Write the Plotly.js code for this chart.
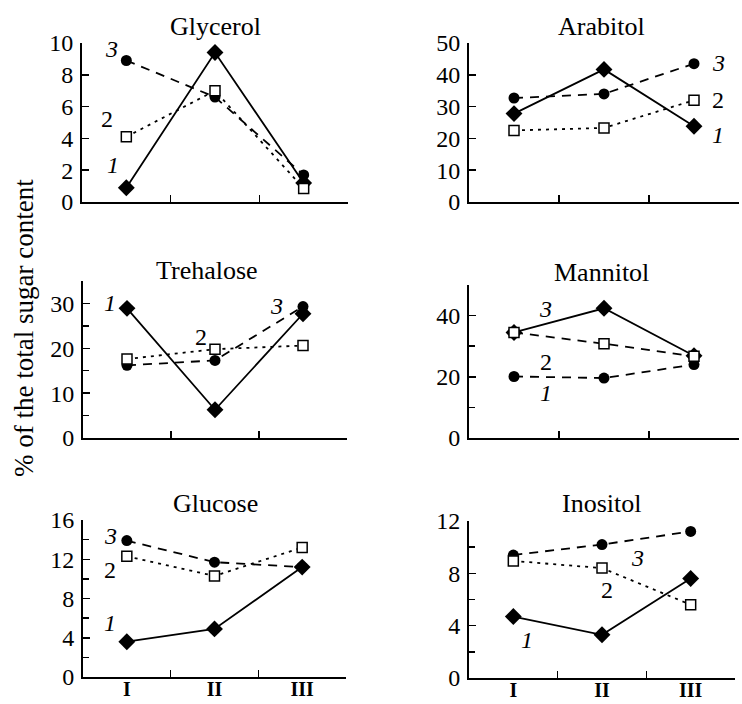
<!DOCTYPE html>
<html><head><meta charset="utf-8">
<script src="https://cdn.plot.ly/plotly-3.0.1.min.js"></script>
<style>html,body{margin:0;padding:0;background:#fff}</style>
</head><body><div id="chart" style="width:742px;height:704px"></div>
<script>
const categories = ['I', 'II', 'III'];
const panelNames = ['Glycerol', 'Arabitol', 'Trehalose', 'Mannitol', 'Glucose', 'Inositol'];
const yAxisTitle = '% of the total sugar content';

const glycerol1 = [0.9, 9.4, 1.2];
const glycerol2 = [4.1, 7.0, 0.85];
const glycerol3 = [8.9, 6.6, 1.7];

const arabitol1 = [27.8, 41.7, 23.8];
const arabitol2 = [22.5, 23.3, 32.0];
const arabitol3 = [32.7, 34.0, 43.5];

const trehalose1 = [28.9, 6.3, 27.7];
const trehalose2 = [17.6, 19.8, 20.6];
const trehalose3 = [16.2, 17.3, 29.3];

const mannitol1 = [34.5, 42.4, 26.9];
const mannitol2 = [34.5, 30.8, 26.7];
const mannitol3 = [20.1, 19.6, 24.0];

const glucose1 = [3.6, 4.9, 11.2];
const glucose2 = [12.3, 10.3, 13.2];
const glucose3 = [13.9, 11.7, 11.2];

const inositol1 = [4.7, 3.3, 7.6];
const inositol2 = [8.95, 8.4, 5.6];
const inositol3 = [9.4, 10.2, 11.2];

const seriesLabels = ['1', '2', '3'];

const W = 742, H = 704;
const FONT = '"Liberation Serif", "Times New Roman", Tinos, "DejaVu Serif", serif';

// panel geometry in pixels
const panels = [
  {series: [glycerol1, glycerol2, glycerol3], yr: [0, 10], dt: 2, mdt: null, x0: 82, x1: 348, yTop: 43, yBot: 202, tx: 215, ty: 26,
   labels: [[0.35 - 0.5, 2.3], [0.28 - 0.5, 5.2], [0.33 - 0.5, 9.6]]},
  {series: [arabitol1, arabitol2, arabitol3], yr: [0, 50], dt: 10, mdt: null, x0: 469, x1: 739, yTop: 43, yBot: 202, tx: 601, ty: 27,
   labels: [[2.77 - 0.5, 21], [2.77 - 0.5, 32], [2.77 - 0.5, 43.7]]},
  {series: [trehalose1, trehalose2, trehalose3], yr: [0, 35], dt: 10, mdt: 5, x0: 83, x1: 347, yTop: 281, yBot: 438, tx: 207, ty: 270,
   labels: [[0.31 - 0.5, 30], [1.34 - 0.5, 22.6], [2.2 - 0.5, 29.5]]},
  {series: [mannitol1, mannitol2, mannitol3], yr: [0, 50], dt: 20, mdt: 10, x0: 469, x1: 739, yTop: 285, yBot: 438, tx: 601, ty: 272,
   labels: [[0.85 - 0.5, 14.8], [0.85 - 0.5, 25], [0.85 - 0.5, 42]], dash2: '9px,7px'},
  {series: [glucose1, glucose2, glucose3], yr: [0, 16], dt: 4, mdt: 2, x0: 83, x1: 346, yTop: 520, yBot: 677, tx: 215, ty: 503,
   labels: [[0.31 - 0.5, 5.5], [0.31 - 0.5, 10.9], [0.31 - 0.5, 14.4]]},
  {series: [inositol1, inositol2, inositol3], yr: [0, 12], dt: 4, mdt: 2, x0: 469, x1: 735, yTop: 521, yBot: 678, tx: 601, ty: 503,
   labels: [[0.65 - 0.5, 2.9], [1.56 - 0.5, 6.7], [1.9 - 0.5, 9.2]]}
];

const styles = [
  {dash: 'solid', symbol: 'diamond', size: 13, color: '#000', lineW: 0},
  {dash: '3px,5px', symbol: 'square', size: 10, color: '#fff', lineW: 1.5},
  {dash: '9px,7px', symbol: 'circle', size: 11, color: '#000', lineW: 0}
];

const traces = [];
const layout = {
  width: W, height: H,
  margin: {l: 0, r: 0, t: 0, b: 0},
  paper_bgcolor: '#fff', plot_bgcolor: 'rgba(0,0,0,0)',
  showlegend: false,
  font: {family: FONT, color: '#000', size: 24},
  annotations: []
};

panels.forEach((p, i) => {
  const n = i + 1;
  const xa = 'x' + (n === 1 ? '' : n), ya = 'y' + (n === 1 ? '' : n);
  const xKey = 'xaxis' + (n === 1 ? '' : n), yKey = 'yaxis' + (n === 1 ? '' : n);
  const bottom = i >= 4;
  layout[xKey] = {
    domain: [p.x0 / W, p.x1 / W], anchor: ya, type: 'category',
    categoryorder: 'array', categoryarray: categories,
    range: [-0.5, 2.5], tickson: 'boundaries',
    ticks: 'inside', ticklen: 7, tickwidth: 1.5, tickcolor: '#000',
    showline: true, linewidth: 2, linecolor: '#000',
    showgrid: false, zeroline: false, fixedrange: true,
    showticklabels: bottom, ticklabelstandoff: -7,
    tickfont: {family: FONT, size: 20, weight: 'bold', color: '#000'}
  };
  const yax = {
    domain: [1 - p.yBot / H, 1 - p.yTop / H], anchor: xa,
    range: p.yr, tick0: 0, dtick: p.dt,
    ticks: 'inside', ticklen: 7, tickwidth: 1.5, tickcolor: '#000',
    showline: true, linewidth: 2, linecolor: '#000',
    showgrid: false, zeroline: false, fixedrange: true,
    ticklabelstandoff: 2,
    tickfont: {family: FONT, size: 24, color: '#000'}
  };
  if (p.mdt) yax.minor = {ticks: 'inside', ticklen: 6, tickwidth: 1.5, tickcolor: '#000', dtick: p.mdt, tick0: 0, showgrid: false};
  layout[yKey] = yax;

  // draw order: solid series first, then circles, squares last
  [0, 2, 1].forEach(k => {
    const st = styles[k];
    traces.push({
      type: 'scatter', mode: 'lines+markers', x: categories, y: p.series[k],
      xaxis: xa, yaxis: ya, cliponaxis: false,
      line: {color: '#000', width: 1.8, dash: (k === 1 && p.dash2) ? p.dash2 : st.dash},
      marker: {symbol: st.symbol, size: st.size, color: st.color, line: {color: '#000', width: st.lineW}},
      hoverinfo: 'skip'
    });
  });

  layout.annotations.push({
    text: panelNames[i], xref: 'paper', yref: 'paper', x: p.tx / W, y: 1 - p.ty / H,
    xanchor: 'center', yanchor: 'middle', showarrow: false,
    font: {family: FONT, size: 26, color: '#000'}
  });
  p.labels.forEach((lb, k) => {
    layout.annotations.push({
      text: k === 1 ? seriesLabels[k] : '<i>' + seriesLabels[k] + '</i>',
      xref: xa, yref: ya, x: lb[0], y: lb[1],
      xanchor: 'center', yanchor: 'middle', showarrow: false,
      font: {family: FONT, size: 24, color: '#000'}
    });
  });
});

layout.annotations.push({
  text: yAxisTitle, xref: 'paper', yref: 'paper', x: 24 / W, y: 1 - 328 / H,
  xanchor: 'center', yanchor: 'middle', textangle: -90, showarrow: false,
  font: {family: FONT, size: 27, color: '#000'}
});

Plotly.newPlot('chart', traces, layout, {staticPlot: true, displayModeBar: false});
</script>
</body></html>
